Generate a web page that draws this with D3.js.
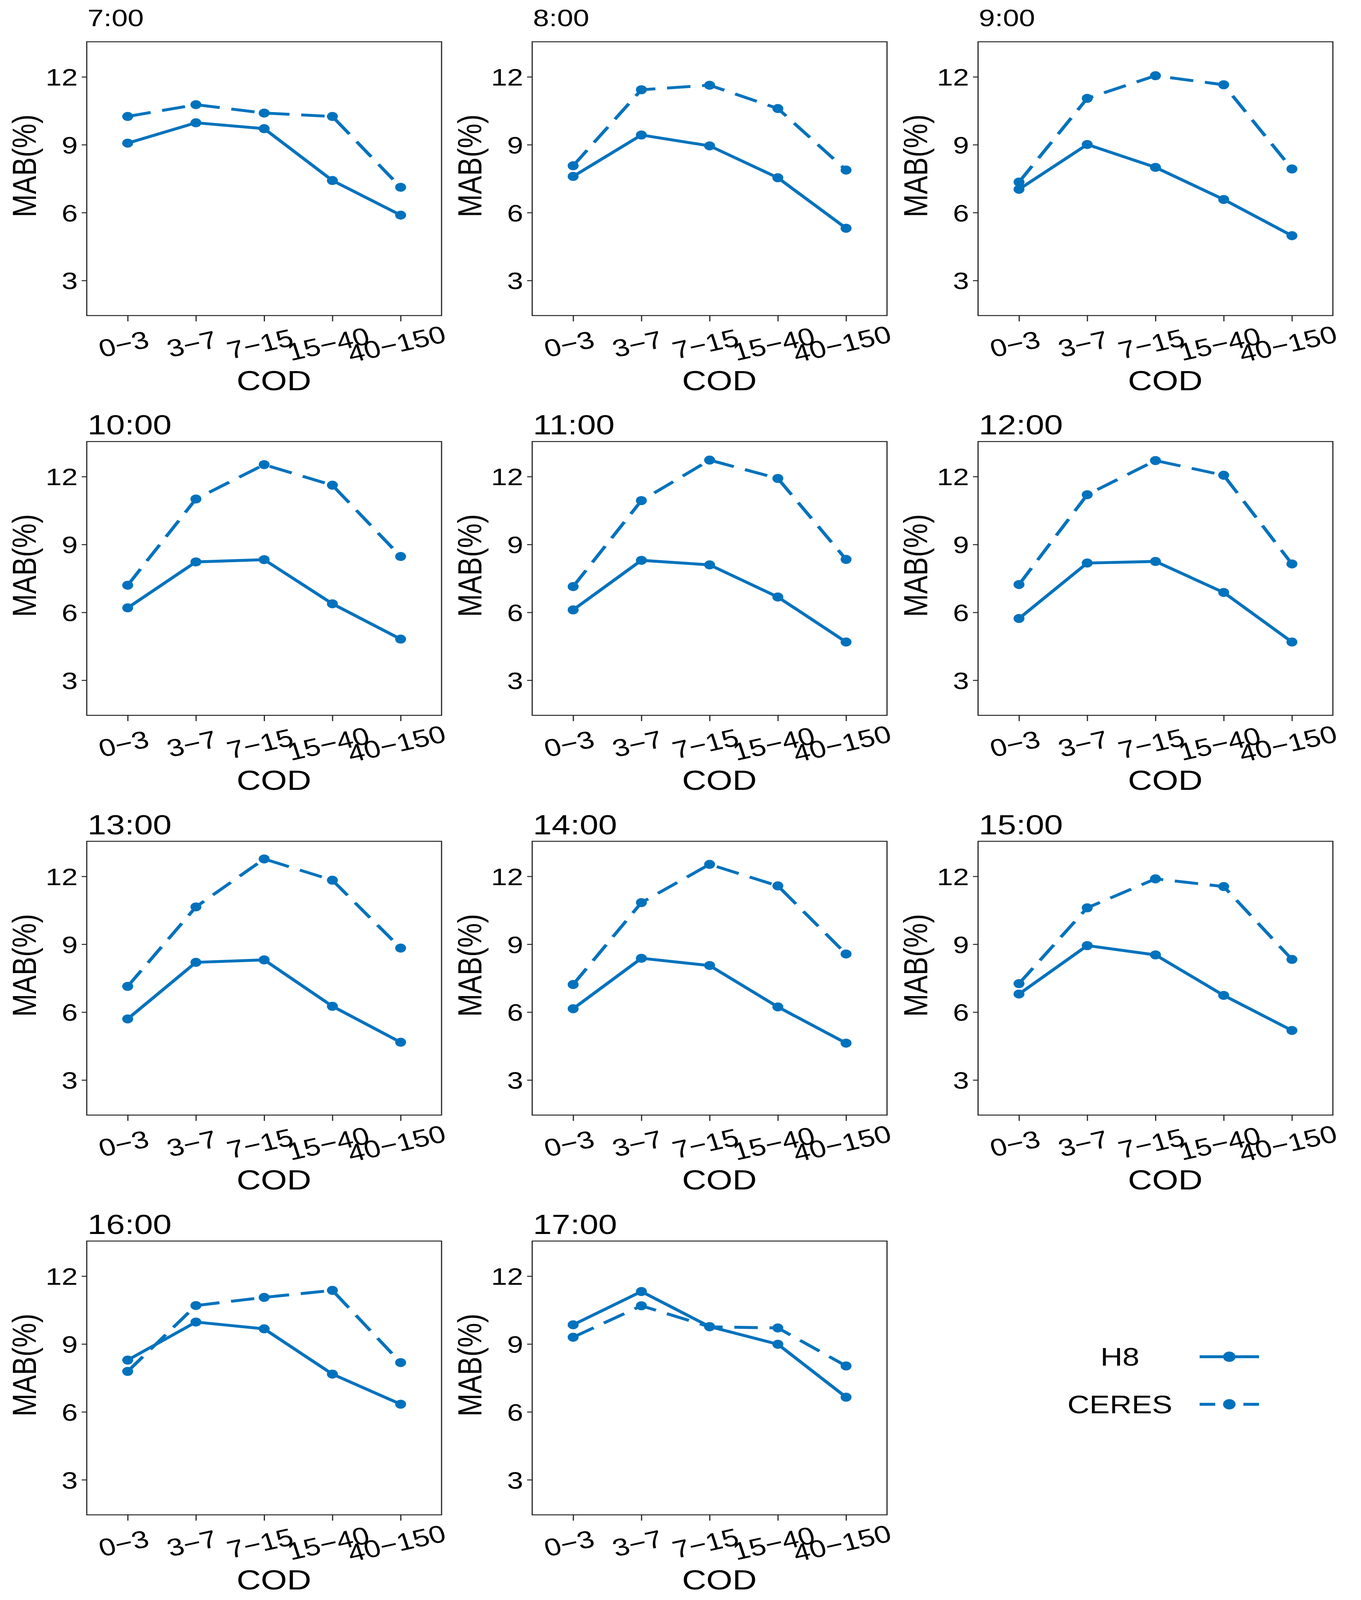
<!DOCTYPE html>
<html>
<head>
<meta charset="utf-8">
<script src="https://cdn.jsdelivr.net/npm/d3@7"></script>
<style>
  html, body { margin: 0; padding: 0; background: #fff; overflow: hidden; }
  text { font-family: "Liberation Sans", Arial, Helvetica, sans-serif; fill: #000; }
</style>
</head>
<body>
<div id="chart"></div>
<script>
var width = 3483;
var height = 4979;

// COD bins along x
var codBins = ["0\u22123", "3\u22127", "7\u221215", "15\u221240", "40\u2212150"];
var hours = ["7:00", "8:00", "9:00", "10:00", "11:00", "12:00", "13:00", "14:00", "15:00", "16:00", "17:00"];
var yTicks = [3, 6, 9, 12];
var seriesNames = ["H8", "CERES"];

// MAB(%) per hour, H8 (solid)
var h8 = [
  [9.07, 9.97, 9.71, 7.42, 5.89],
  [7.60, 9.43, 8.95, 7.54, 5.31],
  [7.03, 9.01, 8.00, 6.58, 4.98],
  [6.20, 8.23, 8.33, 6.38, 4.82],
  [6.11, 8.30, 8.10, 6.68, 4.69],
  [5.73, 8.18, 8.25, 6.88, 4.69],
  [5.70, 8.20, 8.31, 6.26, 4.67],
  [6.15, 8.38, 8.06, 6.23, 4.63],
  [6.80, 8.94, 8.53, 6.74, 5.19],
  [8.29, 9.97, 9.67, 7.67, 6.34],
  [9.85, 11.32, 9.77, 8.99, 6.65]
];

// MAB(%) per hour, CERES (dashed)
var ceres = [
  [10.25, 10.77, 10.40, 10.25, 7.12],
  [8.07, 11.43, 11.63, 10.60, 7.88],
  [7.35, 11.05, 12.05, 11.65, 7.93],
  [7.20, 11.01, 12.53, 11.62, 8.47],
  [7.14, 10.94, 12.73, 11.92, 8.34],
  [7.23, 11.20, 12.71, 12.06, 8.14],
  [7.14, 10.65, 12.77, 11.83, 8.83],
  [7.22, 10.84, 12.53, 11.58, 8.57],
  [7.26, 10.61, 11.89, 11.55, 8.33],
  [7.79, 10.70, 11.06, 11.37, 8.18],
  [9.30, 10.69, 9.76, 9.71, 8.03]
];

var blue = "#0072bd";
var axisColor = "#262626";

// panel layout (pixels in the 3483 x 4979 frame)
var colLeft = [222, 1362, 2503];
var rowTop = [130, 1374, 2618, 3862];
var titleGap = [48, 22, 22, 22];
var titleSize = [74, 86, 86, 86];
var pw = 908, ph = 852;

// the whole frame is fitted to the window
var svg = d3.select("#chart")
    .append("svg")
    .attr("viewBox", "0 0 " + width + " " + height)
    .attr("preserveAspectRatio", "none")
    .style("display", "block")
    .style("width", "100vw")
    .style("height", "100vh");

var xScale = d3.scalePoint().domain(codBins).range([0, pw]).padding(0.6);
var yScale = d3.scaleLinear().domain([1.45, 13.55]).range([ph, 0]);

var line = d3.line()
    .x(function(d, i) { return xScale(codBins[i]); })
    .y(function(d) { return yScale(d); });

hours.forEach(function(hour, k) {
    var r = Math.floor(k / 3), c = k % 3;
    var g = svg.append("g")
        .attr("transform", "translate(" + colLeft[c] + "," + rowTop[r] + ")");

    // y axis
    var yAx = g.append("g")
        .call(d3.axisLeft(yScale).tickValues(yTicks).tickSize(13).tickPadding(10));
    yAx.select(".domain").remove();
    yAx.selectAll("line").attr("stroke", axisColor).attr("stroke-width", 3);
    yAx.selectAll("text").style("font-size", "74px").attr("dy", "0.36em");

    // x axis
    var xAx = g.append("g")
        .attr("transform", "translate(0," + ph + ")")
        .call(d3.axisBottom(xScale).tickSize(18).tickPadding(0));
    xAx.select(".domain").remove();
    xAx.selectAll("line").attr("stroke", axisColor).attr("stroke-width", 3);
    xAx.selectAll("text")
        .style("font-size", "76px")
        .attr("text-anchor", "middle")
        .attr("y", 0)
        .attr("dy", 0)
        .attr("transform", "translate(-4,114) rotate(-15)");

    // frame
    g.append("rect")
        .attr("width", pw)
        .attr("height", ph)
        .attr("fill", "none")
        .attr("stroke", axisColor)
        .attr("stroke-width", 3);

    // lines + markers
    [h8[k], ceres[k]].forEach(function(vals, s) {
        g.append("path")
            .datum(vals)
            .attr("d", line)
            .attr("fill", "none")
            .attr("stroke", blue)
            .attr("stroke-width", 9)
            .attr("stroke-dasharray", s === 1 ? "60,30" : null);
        g.selectAll(".dot" + s)
            .data(vals)
            .enter()
            .append("circle")
            .attr("class", "dot" + s)
            .attr("cx", function(d, i) { return xScale(codBins[i]); })
            .attr("cy", function(d) { return yScale(d); })
            .attr("r", 14)
            .attr("fill", blue);
    });

    // labels
    g.append("text")
        .attr("x", 2)
        .attr("y", -titleGap[r])
        .style("font-size", titleSize[r] + "px")
        .text(hour);

    g.append("text")
        .attr("transform", "translate(-130," + (ph / 2 - 40) + ") rotate(-90)")
        .attr("text-anchor", "middle")
        .style("font-size", "86px")
        .text("MAB(%)");

    g.append("text")
        .attr("x", pw / 2 + 25)
        .attr("y", ph + 232)
        .attr("text-anchor", "middle")
        .style("font-size", "86px")
        .text("COD");
});

// legend
var legendY = [4222, 4370];
var leg = svg.append("g");
seriesNames.forEach(function(name, s) {
    leg.append("text")
        .attr("x", 2866)
        .attr("y", legendY[s])
        .attr("dy", "0.36em")
        .attr("text-anchor", "middle")
        .style("font-size", "78px")
        .text(name);
    leg.append("line")
        .attr("x1", 3070).attr("x2", 3222)
        .attr("y1", legendY[s]).attr("y2", legendY[s])
        .attr("stroke", blue)
        .attr("stroke-width", 9)
        .attr("stroke-dasharray", s === 1 ? "40,72,40" : null);
    leg.append("circle")
        .attr("cx", 3146)
        .attr("cy", legendY[s])
        .attr("r", 16)
        .attr("fill", blue);
});
</script>
</body>
</html>
